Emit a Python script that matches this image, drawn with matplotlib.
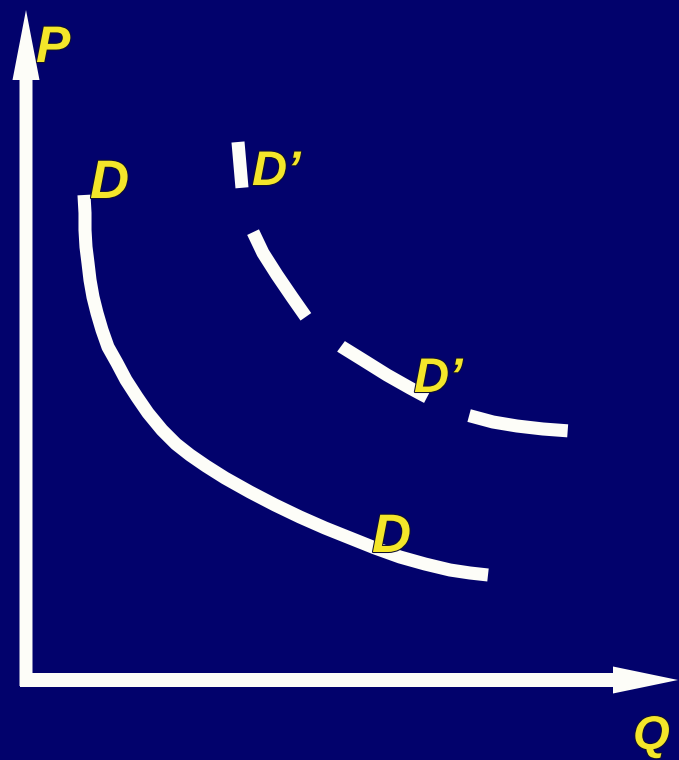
import matplotlib
matplotlib.use("Agg")
import matplotlib.pyplot as plt
import matplotlib.patheffects as pe

# curva D (cantidad, precio)
d_q = [58, 59, 59, 60, 62, 64, 67, 71, 76, 82, 91, 100, 111, 122, 136, 150,
       164, 180, 199, 224, 249, 274, 299, 324, 349, 374, 399, 424, 444, 462]
d_p = [485, 467, 450, 433, 417, 400, 383, 367, 350, 333, 317, 300, 283, 267,
       250, 236, 225, 214, 202, 188, 175, 163, 152, 142, 132, 123, 116, 110,
       107, 105]

# curva D' desplazada (discontinua)
d2_q = [212, 216, 219, 227, 237, 251, 266, 280, 297, 316, 337, 361, 384, 397,
        420, 441, 467, 491, 517, 544]
d2_p = [538, 492, 470, 448, 427, 405, 383, 363, 347, 333, 320, 305, 292, 285,
        273, 265, 258, 254, 251, 249]

# etiquetas
etiquetas = ["P", "Q", "D", "D", "D\u2019", "D\u2019"]
etiq_q = [10, 607, 64, 346, 226, 388]
etiq_p = [618, -69, 482, 128, 495, 288]
etiq_size = [37, 34, 39, 39, 35, 35]

fondo = "#02026c"
blanco = "#fdfdf8"
amarillo = "#f4e62a"

plt.rcParams['lines.scale_dashes'] = False

fig = plt.figure(figsize=(6.79, 7.6), dpi=100, facecolor=fondo)
ax = fig.add_axes([0, 0, 1, 1])
ax.set_facecolor(fondo)
ax.set_xlim(-26, 653)
ax.set_ylim(-80, 680)
ax.axis('off')

# ejes con flechas
ax.arrow(0, -6, 0, 676, width=13, head_width=27, head_length=70,
         length_includes_head=True, color=blanco, lw=0)
ax.arrow(-6, 0, 658, 0, width=14, head_width=27, head_length=65,
         length_includes_head=True, color=blanco, lw=0)

# curvas de demanda
ax.plot(d_q, d_p, color=blanco, lw=9.4, solid_capstyle='butt',
        solid_joinstyle='round')
ax.plot(d2_q, d2_p, color=blanco, lw=9.4, linestyle=(38.9, (72, 33.1)),
        dash_capstyle='butt', dash_joinstyle='round')

for txt, q, p, s in zip(etiquetas, etiq_q, etiq_p, etiq_size):
    ax.text(q, p, txt, color=amarillo, fontsize=s, fontweight='bold',
            fontstyle='italic', family='Liberation Sans',
            ha='left', va='baseline',
            path_effects=[pe.withStroke(linewidth=1.5, foreground='#101030')])

fig.savefig("out.png", dpi=100, facecolor=fondo)
